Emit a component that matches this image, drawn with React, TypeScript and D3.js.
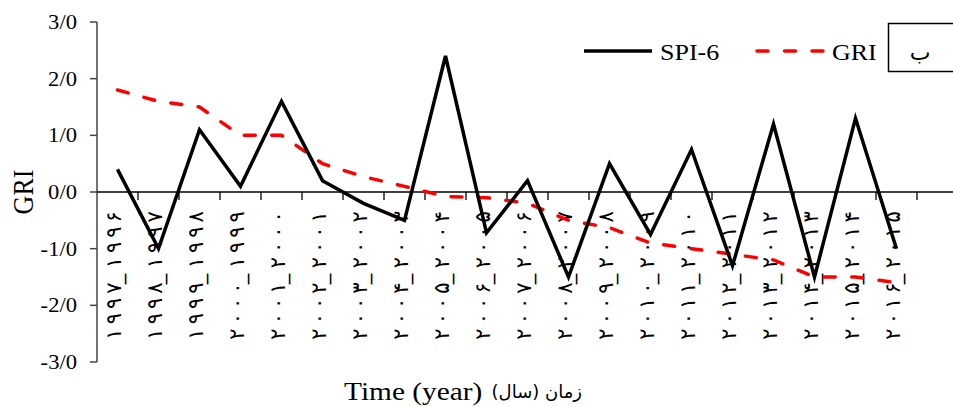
import React, { useRef, useEffect } from 'react';
import * as d3 from 'd3';

// year labels (Persian digits), one per water year
const categories = [
  '۱۹۹۷_۱۹۹۶', '۱۹۹۸_۱۹۹۷', '۱۹۹۹_۱۹۹۸', '۲۰۰۰_۱۹۹۹', '۲۰۰۱_۲۰۰۰',
  '۲۰۰۲_۲۰۰۱', '۲۰۰۳_۲۰۰۲', '۲۰۰۴_۲۰۰۳', '۲۰۰۵_۲۰۰۴', '۲۰۰۶_۲۰۰۵',
  '۲۰۰۷_۲۰۰۶', '۲۰۰۸_۲۰۰۷', '۲۰۰۹_۲۰۰۸', '۲۰۱۰_۲۰۰۹', '۲۰۱۱_۲۰۱۰',
  '۲۰۱۲_۲۰۱۱', '۲۰۱۳_۲۰۱۲', '۲۰۱۴_۲۰۱۳', '۲۰۱۵_۲۰۱۴', '۲۰۱۶_۲۰۱۵',
];

const spi6 = [0.4, -1.0, 1.1, 0.1, 1.6, 0.2, -0.2, -0.5, 2.4, -0.72, 0.2, -1.5, 0.5, -0.75, 0.75, -1.3, 1.2, -1.5, 1.3, -1.0];
const gri = [1.8, 1.6, 1.5, 1.0, 1.0, 0.5, 0.27, 0.1, -0.08, -0.1, -0.2, -0.5, -0.63, -0.9, -1.0, -1.1, -1.2, -1.5, -1.5, -1.6];

const yTicks = [3, 2, 1, 0, -1, -2, -3];
const yTickLabels = ['3/0', '2/0', '1/0', '0/0', '-1/0', '-2/0', '-3/0'];

const W = 953;
const H = 407;
const SX = 1.13; // text in the source image is a bit wider than tall
const serif = '"Liberation Serif", "Times New Roman", serif';

const App = () => {
  const ref = useRef<SVGSVGElement>(null);

  useEffect(() => {
    const svg = d3.select(ref.current);
    svg.selectAll('*').remove();

    const left = 97;
    const band = 41;
    const top = 22;
    const bottom = 362;

    const x = d3.scaleBand<string>()
      .domain(categories)
      .range([left, left + band * categories.length])
      .padding(0);
    const y = d3.scaleLinear().domain([-3, 3]).range([bottom, top]);
    const cx = (i: number) => (x(categories[i]) as number) + x.bandwidth() / 2;

    const stretchText = (px: number, py: number, rot = 0) =>
      `translate(${px},${py}) scale(${SX},1)` + (rot ? ` rotate(${rot})` : '');

    // y axis
    svg.append('line')
      .attr('x1', left).attr('x2', left)
      .attr('y1', top).attr('y2', bottom)
      .attr('stroke', '#444').attr('stroke-width', 1.5);

    yTicks.forEach((t, i) => {
      svg.append('line')
        .attr('x1', left - 7).attr('x2', left)
        .attr('y1', y(t)).attr('y2', y(t))
        .attr('stroke', '#444').attr('stroke-width', 1.5);
      svg.append('text')
        .attr('transform', stretchText(77, y(t) + 7))
        .attr('text-anchor', 'end')
        .attr('font-family', serif)
        .attr('font-size', 20)
        .attr('fill', '#000')
        .text(yTickLabels[i]);
    });

    // x axis at zero
    svg.append('line')
      .attr('x1', left).attr('x2', W)
      .attr('y1', y(0)).attr('y2', y(0))
      .attr('stroke', '#000').attr('stroke-width', 1.3);

    for (let k = 1; k <= categories.length + 1; k++) {
      const tx = left + band * k;
      svg.append('line')
        .attr('x1', tx).attr('x2', tx)
        .attr('y1', y(0)).attr('y2', y(0) + 8)
        .attr('stroke', '#000').attr('stroke-width', 1.3);
    }

    // rotated year labels: each glyph placed on its own so the spacing
    // matches the loose spacing of the source (letter-spacing is ignored
    // for Arabic-script digits)
    const glyphStep = 15.3;
    const labelBottom = 334;
    categories.forEach((c, i) => {
      const t = svg.append('text')
        .attr('transform', `translate(${cx(i) + 3},0) rotate(-90)`)
        .attr('direction', 'ltr')
        .attr('font-family', '"DejaVu Sans", sans-serif')
        .attr('font-size', 21)
        .attr('fill', '#000');
      Array.from(c).forEach((ch, k) => {
        let pos = labelBottom - k * glyphStep;
        if (k === 4) pos = labelBottom - 3.6 * glyphStep;
        if (k > 4) pos = labelBottom - (k - 0.6) * glyphStep - 4;
        t.append('tspan')
          .attr('x', -pos)
          .attr('y', 0)
          .attr('text-anchor', 'middle')
          .text(ch);
      });
    });

    // series
    const line = d3.line<number>()
      .x((d, i) => cx(i))
      .y(d => y(d));

    svg.append('path')
      .datum(gri)
      .attr('fill', 'none')
      .attr('stroke', '#ff0000')
      .attr('stroke-width', 3.5)
      .attr('stroke-dasharray', '11,16.5')
      .attr('stroke-linecap', 'round')
      .attr('d', line);

    svg.append('path')
      .datum(spi6)
      .attr('fill', 'none')
      .attr('stroke', '#000')
      .attr('stroke-width', 3.5)
      .attr('stroke-linejoin', 'miter')
      .attr('d', line);

    // axis titles
    svg.append('text')
      .attr('transform', stretchText(33, y(0), -90))
      .attr('text-anchor', 'middle')
      .attr('font-family', serif)
      .attr('font-size', 26)
      .attr('fill', '#000')
      .text('GRI');

    svg.append('text')
      .attr('transform', stretchText(344, 400))
      .attr('font-family', serif)
      .attr('font-size', 26)
      .attr('fill', '#000')
      .text('Time (year)');

    svg.append('text')
      .attr('x', 582)
      .attr('y', 398)
      .attr('direction', 'rtl')
      .attr('text-anchor', 'start')
      .attr('font-family', '"DejaVu Sans", sans-serif')
      .attr('font-size', 18)
      .attr('fill', '#000')
      .text('زمان (سال)');

    // legend
    const lg = svg.append('g');
    lg.append('line')
      .attr('x1', 584).attr('x2', 652).attr('y1', 51).attr('y2', 51)
      .attr('stroke', '#000').attr('stroke-width', 3.5);
    lg.append('text')
      .attr('transform', stretchText(660, 60))
      .attr('font-family', serif).attr('font-size', 23).attr('fill', '#000')
      .text('SPI-6');
    lg.append('line')
      .attr('x1', 757).attr('x2', 824).attr('y1', 51).attr('y2', 51)
      .attr('stroke', '#ff0000').attr('stroke-width', 3.5)
      .attr('stroke-dasharray', '11,16.5').attr('stroke-linecap', 'round');
    lg.append('text')
      .attr('transform', stretchText(832, 60))
      .attr('font-family', serif).attr('font-size', 23).attr('fill', '#000')
      .text('GRI');

    // panel tag box
    svg.append('rect')
      .attr('x', 888.5).attr('y', 23.5)
      .attr('width', 80).attr('height', 48)
      .attr('fill', 'none').attr('stroke', '#000').attr('stroke-width', 1.5);
    svg.append('text')
      .attr('x', 920).attr('y', 60)
      .attr('text-anchor', 'middle')
      .attr('font-family', '"DejaVu Sans", sans-serif')
      .attr('font-size', 22)
      .attr('fill', '#000')
      .text('ب');
  }, []);

  return (
    <svg
      ref={ref}
      width={W}
      height={H}
      style={{ position: 'absolute', left: 0, top: 0, background: '#fff' }}
    />
  );
};

export default App;
